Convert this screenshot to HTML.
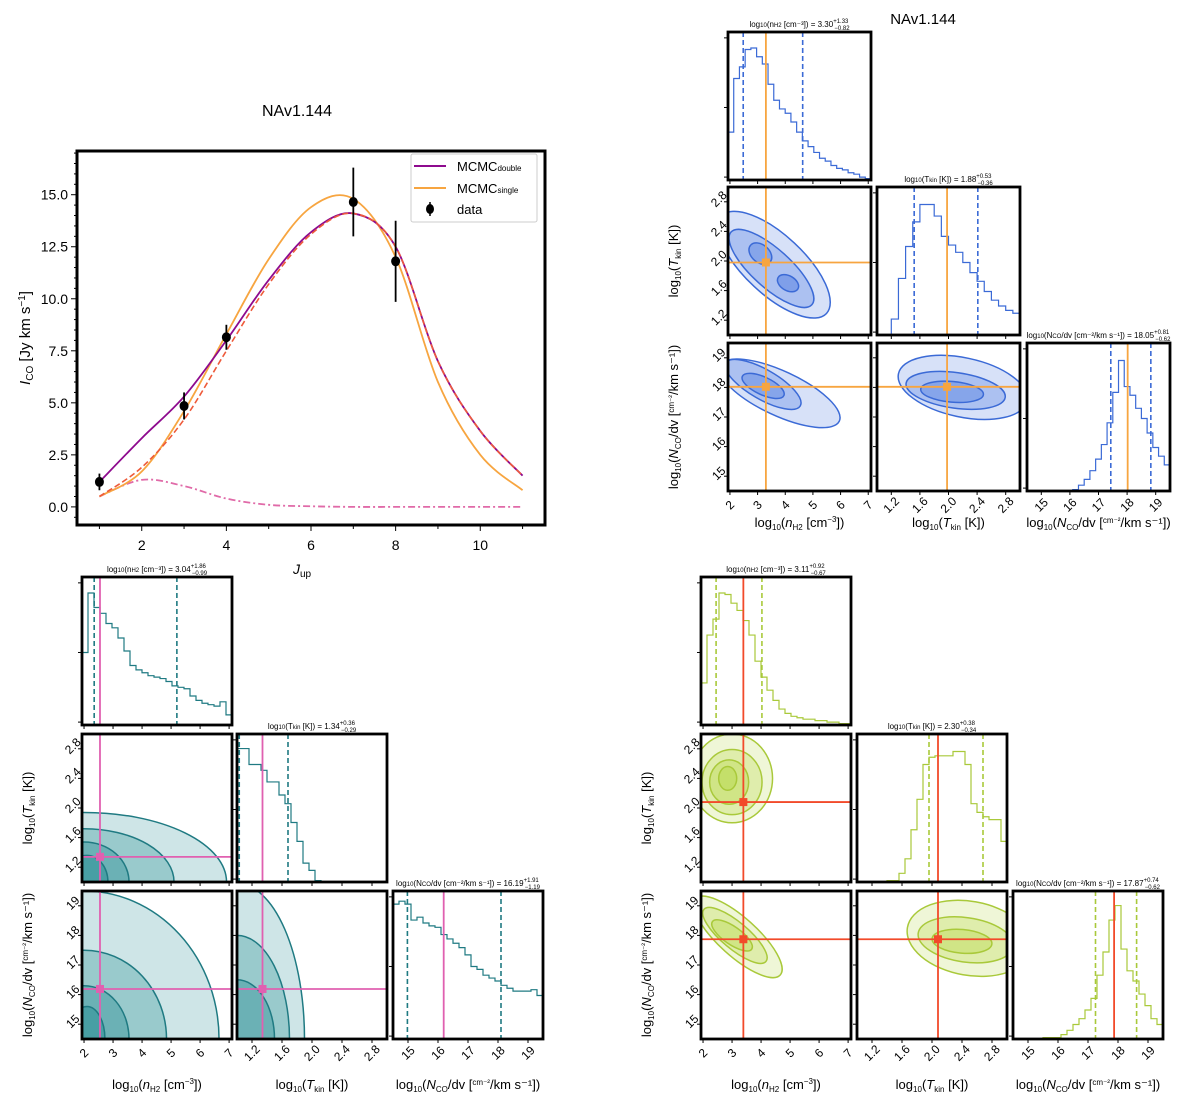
<!DOCTYPE html>
<html><head><meta charset="utf-8"><style>
html,body{margin:0;padding:0;background:#fff;width:1200px;height:1115px;overflow:hidden;}
svg{display:block;font-family:"Liberation Sans","DejaVu Sans",sans-serif;}
</style></head><body>
<svg id="fig" width="1200" height="1115" viewBox="0 0 1200 1115" xmlns="http://www.w3.org/2000/svg"></svg>
<script>
// ---------- SLED chart data ----------
const jGrid = [1,2,3,4,5,6,7,8,9,10,11];
const mcmcDouble = [1.2,3.3,5.3,8.0,10.9,13.2,14.1,12.5,7.0,3.65,1.5];
const mcmcSingle = [0.5,1.7,4.6,8.3,11.9,14.4,14.8,12.0,6.0,2.5,0.8];
const warmComp = [0.5,1.9,4.2,7.5,10.7,13.1,14.1,12.5,7.0,3.65,1.5];
const coldComp = [0.5,1.3,1.0,0.4,0.1,0.03,0.0,0.0,0.0,0.0,0.0];
const dataJ = [1,3,4,7,8];
const dataI = [1.2,4.85,8.15,14.65,11.8];
const dataErr = [0.4,0.65,0.6,1.65,1.95];
const yTicks = [0,2.5,5,7.5,10,12.5,15];
const yTickLabels = ["0.0","2.5","5.0","7.5","10.0","12.5","15.0"];
const xTicks = [2,4,6,8,10];

// ---------- corner data ----------
const nTicks = [2,3,4,5,6,7];
const tTicks = [1.2,1.6,2.0,2.4,2.8];
const cTicks = [15,16,17,18,19];
// blue (single)
const blueHistN = [0.33,0.70,0.78,0.90,0.91,0.85,0.80,0.66,0.55,0.49,0.46,0.40,0.33,0.27,0.23,0.19,0.15,0.13,0.10,0.08,0.07,0.05,0.04,0.02,0.01];
const blueHistT = [0,0,0.11,0.39,0.61,0.78,0.9,0.9,0.82,0.68,0.62,0.57,0.50,0.43,0.37,0.30,0.24,0.2,0.17,0.15];
const blueHistC = [0,0,0,0,0,0,0,0,0.01,0.04,0.08,0.14,0.22,0.32,0.47,0.68,0.9,0.72,0.66,0.57,0.50,0.40,0.30,0.24,0.18];
const blueBest = [3.30,1.98,18.02];
const blueLo = [2.48,1.52,17.43];
const blueHi = [4.63,2.41,18.83];
// teal (double, cold)
const tealHistN = [0.5,0.91,0.81,0.77,0.70,0.67,0.60,0.51,0.41,0.38,0.36,0.34,0.33,0.32,0.30,0.27,0.26,0.25,0.20,0.17,0.15,0.14,0.13,0.16,0.07];
const tealHistT = [0.92,0.92,0.81,0.81,0.77,0.69,0.69,0.60,0.54,0.41,0.28,0.13,0.08,0.01,0,0,0,0,0,0,0,0,0,0,0];
const tealHistC = [0.93,0.95,0.93,0.82,0.84,0.80,0.78,0.77,0.72,0.69,0.66,0.63,0.58,0.50,0.48,0.44,0.42,0.40,0.37,0.35,0.33,0.33,0.33,0.34,0.30];
const tealBest = [2.55,1.34,16.19];
const tealLo = [2.35,1.03,14.98];
const tealHi = [5.2,1.68,18.1];
// green (double, warm)
const greenHistN = [0.29,0.62,0.73,0.91,0.90,0.84,0.79,0.72,0.62,0.44,0.33,0.24,0.17,0.11,0.08,0.06,0.05,0.04,0.04,0.03,0.03,0.02,0.02,0.01,0.01];
const greenHistT = [0,0,0,0,0,0.01,0.01,0.06,0.16,0.36,0.57,0.81,0.86,0.87,0.87,0.87,0.9,0.9,0.81,0.54,0.48,0.45,0.43,0.43,0.28];
const greenHistC = [0,0,0,0,0,0.01,0.01,0.01,0.03,0.06,0.1,0.14,0.2,0.28,0.44,0.6,0.82,0.92,0.62,0.47,0.4,0.31,0.23,0.14,0.1];
const greenBest = [3.39,2.08,17.87];
const greenLo = [2.45,1.96,17.25];
const greenHi = [4.03,2.68,18.62];

const NS="http://www.w3.org/2000/svg";
const svg=document.getElementById('fig');
function el(tag,attrs,parent){const e=document.createElementNS(NS,tag);for(const k in attrs)e.setAttribute(k,attrs[k]);(parent||svg).appendChild(e);return e;}
function txt(s,attrs,parent){const e=el('text',attrs,parent);e.textContent=s;return e;}
function smooth(pts){let d='M'+pts[0][0]+','+pts[0][1];for(let i=0;i<pts.length-1;i++){const p0=pts[Math.max(0,i-1)],p1=pts[i],p2=pts[i+1],p3=pts[Math.min(pts.length-1,i+2)];const c1=[p1[0]+(p2[0]-p0[0])/6,p1[1]+(p2[1]-p0[1])/6],c2=[p2[0]-(p3[0]-p1[0])/6,p2[1]-(p3[1]-p1[1])/6];d+=' C'+c1+' '+c2+' '+p2;}return d;}

// ===== SLED plot =====
(function(){
const L=77,R=545,T=151,B=525;
const X0=0.47,X1=11.53,Y0=-0.87,Y1=17.1;
const sx=v=>L+(v-X0)/(X1-X0)*(R-L), sy=v=>B-(v-Y0)/(Y1-Y0)*(B-T);
const g=el('g',{});

let t=txt('NAv1.144',{x:297,y:116,'font-size':16,'text-anchor':'middle'},g);

for(let v=-0.5;v<=17;v+=0.5){const y=sy(v);if(y<T||y>B)continue;const major=yTicks.some(q=>Math.abs(q-v)<1e-6);el('line',{x1:L-(major?6:3),x2:L,y1:y,y2:y,stroke:'#000','stroke-width':1},g);}
yTicks.forEach((v,i)=>{const lab=txt(yTickLabels[i],{x:L-9,y:sy(v)+5,'font-size':14,'text-anchor':'end'},g);});
for(let v=1;v<=11;v++){el('line',{x1:sx(v),x2:sx(v),y1:B,y2:B+(v%2==0?6:4),stroke:'#000'},g);}
xTicks.forEach(v=>{const lab=txt(String(v),{x:sx(v),y:B+25,'font-size':14,'text-anchor':'middle'},g);});
t=txt('',{x:302,y:574,'font-size':14,'text-anchor':'middle'},g);t.innerHTML='<tspan font-style="italic">J</tspan><tspan font-size="10" dy="3">up</tspan>';

t=txt('',{transform:'translate(30,338) rotate(-90)','font-size':15,'text-anchor':'middle'},g);t.innerHTML='<tspan font-style="italic">I</tspan><tspan font-size="10" dy="3">CO</tspan><tspan dy="-3"> [Jy km s</tspan><tspan font-size="10" dy="-5">−1</tspan><tspan dy="5">]</tspan>';

const mk=arr=>jGrid.map((j,i)=>[sx(j),sy(arr[i])]);
let p=el('path',{d:smooth(mk(coldComp)),fill:'none',stroke:'#e06aa8','stroke-width':1.8,'stroke-dasharray':'7,3,2,3'},g);
p=el('path',{d:smooth(mk(mcmcSingle)),fill:'none',stroke:'#f7a540','stroke-width':1.8},g);
p=el('path',{d:smooth(mk(mcmcDouble)),fill:'none',stroke:'#8e0a8e','stroke-width':1.8},g);
p=el('path',{d:smooth(mk(warmComp)),fill:'none',stroke:'#ee5a3a','stroke-width':1.6,'stroke-dasharray':'6,3'},g);
dataJ.forEach((j,i)=>{const pt=el('g',{},g);
el('line',{x1:sx(j),x2:sx(j),y1:sy(dataI[i]-dataErr[i]),y2:sy(dataI[i]+dataErr[i]),stroke:'#000','stroke-width':1.8},pt);
el('ellipse',{cx:sx(j),cy:sy(dataI[i]),rx:4.5,ry:5,fill:'#000'},pt);});
el('rect',{x:L,y:T,width:R-L,height:B-T,fill:'none',stroke:'#000','stroke-width':3},g);
const lg=el('g',{},g);
el('rect',{x:411,y:154,width:126,height:68,fill:'#fff',stroke:'#ccc','stroke-width':1,rx:2},lg);
const ents=[['#8e0a8e','MCMC','double',166],['#f7a540','MCMC','single',188]];
ents.forEach(e=>{const le=el('g',{},lg);
el('line',{x1:414,x2:446,y1:e[3],y2:e[3],stroke:e[0],'stroke-width':2},le);
const tt=txt('',{x:457,y:e[3]+5,'font-size':13},le);tt.innerHTML=e[1]+'<tspan font-size="8">'+e[2]+'</tspan>';});
const de=el('g',{},lg);
el('line',{x1:430,x2:430,y1:202,y2:216,stroke:'#000','stroke-width':1.5},de);el('ellipse',{cx:430,cy:209,rx:4,ry:5,fill:'#000'},de);
txt('data',{x:457,y:214,'font-size':13},de);
})();

// ===== corner plots =====
const ranges=[[1.93,7.1],[1.0,3.0],[14.5,19.5]];
const ticksets=[nTicks,tTicks,cTicks];
function corner(o){
 const g=el('g',{});
 const w=o.w,h=o.h;
 const fx=(k,v)=>(v-ranges[k][0])/(ranges[k][1]-ranges[k][0])*w;
 const fy=(k,v)=>h-(v-ranges[k][0])/(ranges[k][1]-ranges[k][0])*h;
 const hists=[o.hN,o.hT,o.hC];
 const titles=o.titles;
 let uid=o.name;
 for(let r=0;r<3;r++)for(let c=0;c<=r;c++){
  const X=o.cols[c],Y=o.rows[r];
  const pg=el('g',{transform:`translate(${X},${Y})`},g);
  
  const cid=uid+'c'+r+c;const cp=el('clipPath',{id:cid},pg);el('rect',{x:0,y:0,width:w,height:h},cp);
  const inner=el('g',{'clip-path':`url(#${cid})`},pg);
  if(r==c){
   const hs=hists[r],n=hs.length,bw=(ranges[r][1]-ranges[r][0])/n;
   let d='M0,'+h;
   hs.forEach((v,i)=>{const x0=fx(r,ranges[r][0]+i*bw),x1=fx(r,ranges[r][0]+(i+1)*bw),y=h-v*h*0.98;d+=` L${x0},${y} L${x1},${y}`;});
   d+=' L'+w+','+h;
   const hp=el('path',{d:d,fill:'none',stroke:o.col,'stroke-width':1.2},inner);
   [o.lo[r],o.hi[r]].forEach(v=>{const q=el('line',{x1:fx(r,v),x2:fx(r,v),y1:0,y2:h,stroke:o.col,'stroke-width':1.6,'stroke-dasharray':'5,3'},inner);});
   const bl=el('line',{x1:fx(r,o.best[r]),x2:fx(r,o.best[r]),y1:0,y2:h,stroke:o.tc,'stroke-width':1.8},inner);
   [0.02,0.5,0.98].forEach(f=>el('line',{x1:-4,x2:0,y1:h*(1-f*0.98),y2:h*(1-f*0.98),stroke:'#000'},pg));
   const tt=txt('',{x:w/2,y:-5,'font-size':8,'text-anchor':'middle'},pg);tt.innerHTML=titles[r];
  } else {
   const bl=o.blobs[r+''+c];
   bl.forEach((b,i)=>{const cx=fx(c,b[0]),cy=fy(r,b[1]);
    const e=el('ellipse',{cx:cx,cy:cy,rx:b[2]*w,ry:b[3]*h,transform:`rotate(${b[4]} ${cx} ${cy})`,fill:o.fill,'fill-opacity':0.22+0.08*i,stroke:o.col,'stroke-width':1.5},inner);
    });
   el('line',{x1:fx(c,o.best[c]),x2:fx(c,o.best[c]),y1:0,y2:h,stroke:o.tc,'stroke-width':1.8},inner);
   el('line',{x1:0,x2:w,y1:fy(r,o.best[r]),y2:fy(r,o.best[r]),stroke:o.tc,'stroke-width':1.8},inner);
   const m=el('rect',{x:fx(c,o.best[c])-4,y:fy(r,o.best[r])-4,width:8,height:8,fill:o.tc},inner);
   if(c==0){ticksets[r].forEach(v=>{const y=fy(r,v);el('line',{x1:-4,x2:0,y1:y,y2:y,stroke:'#000'},pg);
     const lt=txt(r==1?v.toFixed(1):String(v),{x:-8,y:y+4,'font-size':12,'text-anchor':'middle',transform:`rotate(-45 -12 ${y})`},pg);});}
   else ticksets[r].forEach(v=>{const y=fy(r,v);el('line',{x1:-4,x2:0,y1:y,y2:y,stroke:'#000'},pg);});
  }
  ticksets[c].forEach(v=>{const x=fx(c,v);el('line',{x1:x,x2:x,y1:h,y2:h+4,stroke:'#000'},pg);
   if(r==2){const lt=txt(c==1?v.toFixed(1):String(v),{x:x,y:h+18,'font-size':12,'text-anchor':'middle',transform:`rotate(-45 ${x} ${h+14})`},pg);}});
  el('rect',{x:0,y:0,width:w,height:h,fill:'none',stroke:'#000','stroke-width':2.8},pg);
 }
 const xl=['log<tspan font-size="8" dy="3">10</tspan><tspan dy="-3">(<tspan font-style="italic">n</tspan></tspan><tspan font-size="8" dy="3">H2</tspan><tspan dy="-3"> [cm</tspan><tspan font-size="8" dy="-5">−3</tspan><tspan dy="5">])</tspan>',
  'log<tspan font-size="8" dy="3">10</tspan><tspan dy="-3">(<tspan font-style="italic">T</tspan></tspan><tspan font-size="8" dy="3">kin</tspan><tspan dy="-3"> [K])</tspan>',
  'log<tspan font-size="8" dy="3">10</tspan><tspan dy="-3">(<tspan font-style="italic">N</tspan></tspan><tspan font-size="8" dy="3">CO</tspan><tspan dy="-3">/dv [</tspan><tspan font-size="8" dy="-4">cm⁻²</tspan><tspan dy="4">/km s⁻¹])</tspan>'];
 for(let c=0;c<3;c++){const t=txt('',{x:o.cols[c]+w/2,y:o.rows[2]+h+o.xlOff,'font-size':13,'text-anchor':'middle'},g);t.innerHTML=xl[c];}
 for(let r=1;r<3;r++){const cx=o.cols[0]-50,cy=o.rows[r]+h/2;const t=txt('',{x:cx,y:cy,'font-size':13,'text-anchor':'middle',transform:`rotate(-90 ${cx} ${cy})`},g);t.innerHTML=xl[r];}
}
function ttl(a,v,up,dn){return a+' = '+v+'<tspan font-size="6" dy="-4">'+up+'</tspan><tspan font-size="6" dx="-14" dy="7">'+dn+'</tspan>';}
const tN='log<tspan font-size="6">10</tspan>(n<tspan font-size="6">H2</tspan> [cm⁻³])',tT='log<tspan font-size="6">10</tspan>(T<tspan font-size="6">kin</tspan> [K])',tC='log<tspan font-size="6">10</tspan>(N<tspan font-size="6">CO</tspan>/dv [cm⁻²/km s⁻¹])';

corner({name:'corner-single',cols:[728,877,1027],rows:[32,187,343],w:143,h:148,col:'#3b6ad6',fill:'#4a78e0',tc:'#f7a540',xlOff:36,
 hN:blueHistN,hT:blueHistT,hC:blueHistC,best:blueBest,lo:blueLo,hi:blueHi,
 titles:[ttl(tN,'3.30','+1.33','−0.82'),ttl(tT,'1.88','+0.53','−0.36'),ttl(tC,'18.05','+0.81','−0.62')],
 blobs:{'10':[[3.6,1.95,0.5,0.2,43],[3.5,1.9,0.38,0.13,42],[3.1,2.1,0.09,0.06,40],[4.1,1.7,0.08,0.05,30]],
  '20':[[3.8,17.8,0.46,0.15,25],[3.2,18.1,0.3,0.1,30],[3.2,18.05,0.16,0.06,25]],
  '21':[[2.2,18.0,0.46,0.2,12],[2.1,17.9,0.35,0.12,8],[2.05,17.85,0.22,0.07,5]]}});
txt('NAv1.144',{x:923,y:24,'font-size':15,'text-anchor':'middle'});

corner({name:'corner-cold',cols:[82,237,393],rows:[577,734,891],w:150,h:148,col:'#1f7a82',fill:'#1f8a90',tc:'#e060b0',xlOff:50,
 hN:tealHistN,hT:tealHistT,hC:tealHistC,best:tealBest,lo:tealLo,hi:tealHi,
 titles:[ttl(tN,'3.04','+1.86','−0.99'),ttl(tT,'1.34','+0.36','−0.29'),ttl(tC,'16.19','+1.91','−1.19')],
 blobs:{'10':[[2.0,1.0,0.95,0.47,0],[2.0,1.0,0.6,0.36,0],[2.0,1.0,0.3,0.27,0],[2.1,1.0,0.14,0.18,0]],
  '20':[[2.0,14.5,0.9,1.0,0],[2.0,14.5,0.55,0.6,0],[2.0,14.5,0.3,0.36,0],[2.1,14.5,0.12,0.22,0]],
  '21':[[1.0,14.5,0.45,1.05,0],[1.0,14.5,0.35,0.7,0],[1.0,14.5,0.25,0.4,0]]}});

corner({name:'corner-warm',cols:[701,857,1013],rows:[577,734,891],w:150,h:148,col:'#a9c93a',fill:'#b8d84a',tc:'#f24a2a',xlOff:50,
 hN:greenHistN,hT:greenHistT,hC:greenHistC,best:greenBest,lo:greenLo,hi:greenHi,
 titles:[ttl(tN,'3.11','+0.92','−0.67'),ttl(tT,'2.30','+0.38','−0.34'),ttl(tC,'17.87','+0.74','−0.62')],
 blobs:{'10':[[3.0,2.4,0.27,0.3,0],[3.0,2.35,0.2,0.22,0],[2.9,2.35,0.13,0.15,0],[2.85,2.4,0.06,0.08,0]],
  '20':[[3.2,17.95,0.38,0.13,42],[3.1,18.0,0.27,0.09,40],[3.0,18.0,0.16,0.06,35]],
  '21':[[2.5,17.9,0.42,0.25,10],[2.45,17.85,0.32,0.15,8],[2.4,17.8,0.2,0.08,5]]}});
</script>
</body></html>
